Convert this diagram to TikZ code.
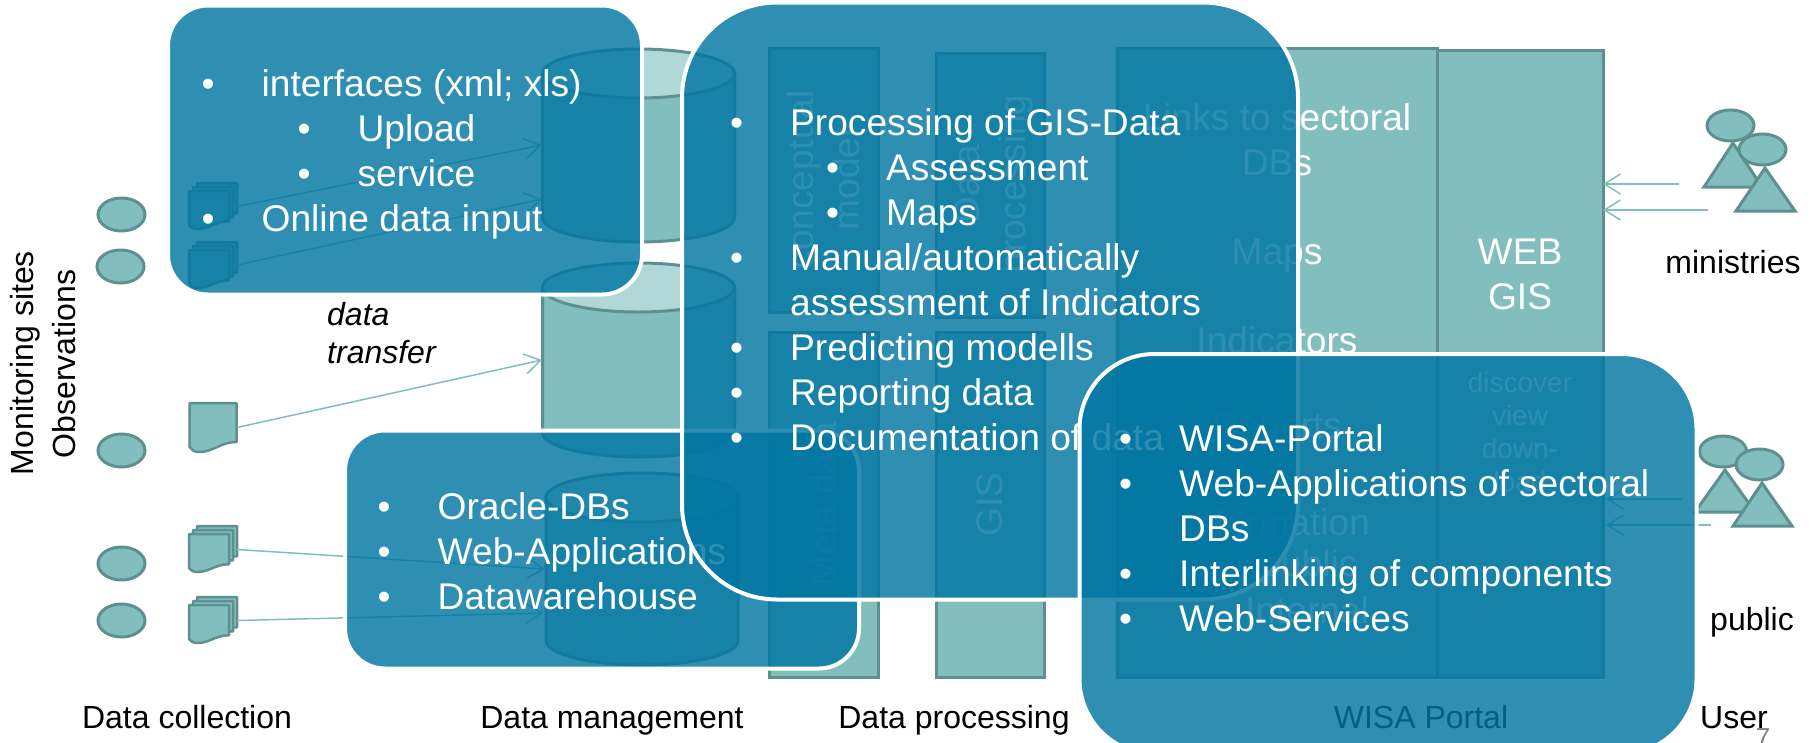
\documentclass[tikz,border=0pt]{standalone}
\usepackage{fontspec}
\setmainfont{Liberation Sans}
\usetikzlibrary{arrows.meta, shapes.geometric}
\definecolor{site fill}{HTML}{82BEBE}
\definecolor{site edge}{HTML}{5F9090}
\definecolor{db top}{HTML}{B0D8D8}
\definecolor{callout blue}{HTML}{0076A2}
\newcommand{\plainsize}{\fontsize{32}{38}\selectfont}
\newcommand{\listsize}{\fontsize{37.15}{45}\selectfont}
% list lines: first level, second level, continued line
\newcommand{\itemA}[1]{\makebox[54pt][l]{\hspace*{-6pt}\textbullet}#1}
\newcommand{\itemB}[1]{\hspace*{96pt}\makebox[54pt][l]{\hspace*{-6pt}\textbullet}#1}
\newcommand{\itemC}[1]{\hspace*{54pt}#1}
\newcommand{\docsheet}[4]{\draw[sheet, shift={(#1,#2)}, xscale=#3/47, yscale=#4/49]
  (0,0) -- (47,0) -- (47,39) .. controls (31,39) and (24,49) .. (10,49)
  .. controls (5,49) and (2,47) .. (0,44) -- cycle;}
\newcommand{\docstack}[2]{\docsheet{#1+8}{#2}{40}{38}\docsheet{#1+4}{#2+4}{40}{38}\docsheet{#1}{#2+8}{40}{38}}
% name, centre x, top y, bottom y
\newcommand{\dbstack}[4]{\draw[tealbody] (#2-96,#3+24.5) -- (#2-96,#4-24.5)
  .. controls (#2-96,#4-11) and (#2-53,#4) .. (#2,#4)
  .. controls (#2+53,#4) and (#2+96,#4-11) .. (#2+96,#4-24.5) -- (#2+96,#3+24.5);
  \node[dbcap] (#1) at (#2,#3+24.5) {};}
\tikzset{
  sheet/.style={fill=site fill, draw=site edge, line width=2.5pt, line join=round},
  tealbox/.style={draw=site edge, fill=site fill, line width=3pt, inner sep=0pt},
  tealbody/.style={draw=site edge, fill=site fill, line width=3pt},
  dbcap/.style={ellipse, draw=site edge, fill=db top, line width=3pt, inner sep=0pt,
    minimum width=192pt, minimum height=49pt},
  boxtext/.style={text=white, font=\listsize, align=center, inner sep=0pt},
  smalltext/.style={text=white, font=\fontsize{28}{33}\selectfont, inner sep=0pt, anchor=base},
  upright/.style={rotate=90, text=white, font=\fontsize{37}{46}\selectfont, align=center},
  site/.style={ellipse, draw=site edge, fill=site fill, line width=3pt, inner sep=0pt,
    minimum width=47pt, minimum height=33pt},
  head/.style={ellipse, draw=site edge, fill=site fill, line width=3pt, inner sep=0pt,
    minimum width=47pt, minimum height=31pt},
  body/.style={draw=site edge, fill=site fill, line width=3pt, line join=miter},
  docport/.style={inner sep=0pt, minimum width=47.5pt, minimum height=47pt},
  edge/.style={->, draw=site fill, line width=1.5pt},
  callout/.style={draw=white, line width=4pt, fill=callout blue, fill opacity=0.82, draw opacity=1,
    inner sep=0pt},
  listing/.style={text=white, font=\listsize, align=left, inner sep=0pt, anchor=north west},
  plainlabel/.style={font=\plainsize, inner sep=0pt, align=center},
  footlabel/.style={font=\plainsize, inner sep=0pt, anchor=base},
  >={Straight Barb[length=16pt, width=20pt]}
}
\begin{document}
\begin{tikzpicture}[x=1pt, y=-1pt]
    \useasboundingbox (0,0) rectangle (1815,742);
    % columns
    \node[tealbox, upright, minimum width=264pt, minimum height=109pt] (concept) at (823.5,180) {conceptual\\model};
    \node[tealbox, minimum width=108pt, minimum height=264pt] (dataproc) at (990,185) {};
    \node[upright, inner sep=0pt] (dptext) at (994,184) {Data\\processing};
    \node[tealbox, upright, minimum width=345pt, minimum height=109pt] (metadata) at (823.5,504.5) {Meta data};
    \node[tealbox, upright, minimum width=345pt, minimum height=108pt] (gis) at (990,504.5) {GIS};
    \node[tealbox, minimum width=320pt, minimum height=629pt] (portal) at (1277,362.5) {};
    \node[tealbox, minimum width=166pt, minimum height=627pt] (webgis) at (1520,363.5) {};
    \node[boxtext] (links) at (1277,139.5) {Links to sectoral\\DBs};
    \node[boxtext] (maps) at (1277,256) {Maps};
    \node[boxtext] (indic) at (1277,340) {Indicators};
    \node[boxtext] (reports) at (1277,430) {Reports};
    \node[boxtext] (inform) at (1277,522) {Information};
    \node[boxtext] (pubtext) at (1309,567) {public};
    \node[boxtext] (internal) at (1307,610) {Internal};
    \node[boxtext] (webtext) at (1520,274) {WEB\\GIS};
    \node[smalltext] (discover) at (1520,392) {discover};
    \node[smalltext] (viewtext) at (1520,425) {view};
    \node[smalltext] (downtext) at (1520,458) {down-};
    \node[smalltext] (loadtext) at (1520,491) {load};
    % data bases
    \dbstack{dbA}{638.5}{49}{242}
    \dbstack{dbB}{638.5}{263}{457}
    \dbstack{dbC}{642}{473}{665}
    % sites and documents
    \node[site] (siteA) at (121.5,214.5) {};
    \node[site] (siteB) at (120.5,266.5) {};
    \node[site] (siteC) at (121.5,450.5) {};
    \node[site] (siteD) at (121.5,563.5) {};
    \node[site] (siteE) at (121.5,620.5) {};
    \docstack{189}{183}
    \docstack{189}{242}
    \docsheet{189.5}{403}{47}{49}
    \docstack{189}{526}
    \docstack{189}{597}
    \node[docport] (docA) at (213,206.5) {};
    \node[docport] (docB) at (213,265) {};
    \node[docport] (docC) at (213,427.5) {};
    \node[docport] (docD) at (213,549.5) {};
    \node[docport] (docE) at (213,620.5) {};
    \coordinate (inA) at (542,145);
    \coordinate (inB) at (542,199);
    \coordinate (inC) at (542,360);
    \coordinate (inD) at (545,569);
    \coordinate (inE) at (543,613);
    \draw[edge] (docA.east) -- (inA);
    \draw[edge] (docB.east) -- (inB);
    \draw[edge] (docC.east) -- (inC);
    \draw[edge] (docD.east) -- (inD);
    \draw[edge] (docE.east) -- (inE);
    % users
    \draw[body] (1733,143) -- (1704,187) -- (1762,187) -- cycle;
    \node[head] (headA) at (1730.5,125.5) {};
    \draw[body] (1765,168) -- (1736,211) -- (1795,211) -- cycle;
    \node[head] (headB) at (1762.5,149.5) {};
    \draw[body] (1725,470) -- (1695,512) -- (1755,512) -- cycle;
    \node[head] (headC) at (1723,451.5) {};
    \draw[body] (1762,483) -- (1733,526) -- (1792,526) -- cycle;
    \node[head] (headD) at (1759.5,464.5) {};
    \coordinate (minA) at (1679,184);
    \coordinate (minB) at (1708,210);
    \coordinate (pubA) at (1682,499);
    \coordinate (pubB) at (1711,525);
    \coordinate (gisA) at (1603,184);
    \coordinate (gisB) at (1603,210);
    \coordinate (gisC) at (1606,499);
    \coordinate (gisD) at (1606,525);
    \draw[edge] (minA) -- (gisA);
    \draw[edge] (minB) -- (gisB);
    \draw[edge] (pubA) -- (gisC);
    \draw[edge] (pubB) -- (gisD);
    % labels
    \node[plainlabel, rotate=90] (monitor) at (25,363) {Monitoring sites};
    \node[plainlabel, rotate=90] (observ) at (64,364) {Observations};
    \node[plainlabel, font=\plainsize\itshape, align=left, anchor=west] (transfer) at (327,333) {data\\transfer};
    \node[footlabel] (collect) at (187,728.5) {Data collection};
    \node[footlabel] (manage) at (612,728.5) {Data management};
    \node[footlabel] (process) at (954,728.5) {Data processing};
    \node[footlabel] (wisa) at (1421,728.5) {WISA Portal};
    \node[footlabel] (user) at (1734,728.5) {User};
    \node[plainlabel] (minist) at (1733,262) {ministries};
    \node[plainlabel] (public) at (1752,622) {public};
    \node[inner sep=0pt, text=gray, font=\fontsize{26}{30}\selectfont] (pagenum) at (1763,738) {7};
    % call-outs
    \node[callout, rounded corners=40pt, minimum width=474pt, minimum height=289pt] (inputbox) at (405,150) {};
    \node[listing] (inputlist) at (207.5,69) {\itemA{interfaces (xml; xls)}\\\itemB{Upload}\\\itemB{service}\\\itemA{Online data input}};
    \node[callout, rounded corners=40pt, minimum width=514pt, minimum height=238pt] (oraclebox) at (602,549.5) {};
    \node[listing] (oraclelist) at (383.5,492) {\itemA{Oracle-DBs}\\\itemA{Web-Applications}\\\itemA{Datawarehouse}};
    \node[callout, rounded corners=95pt, minimum width=616pt, minimum height=597pt] (procbox) at (990,301) {};
    \node[listing] (proclist) at (736,108) {\itemA{Processing of GIS-Data}\\\itemB{Assessment}\\\itemB{Maps}\\\itemA{Manual/automatically}\\\itemC{assessment of Indicators}\\\itemA{Predicting modells}\\\itemA{Reporting data}\\\itemA{Documentation of data}};
    \node[callout, rounded corners=75pt, minimum width=617pt, minimum height=400pt] (wisabox) at (1388,554) {};
    \node[listing] (wisalist) at (1125,424) {\itemA{WISA-Portal}\\\itemA{Web-Applications of sectoral}\\\itemC{DBs}\\\itemA{Interlinking of components}\\\itemA{Web-Services}};
  \end{tikzpicture}
\end{document}
